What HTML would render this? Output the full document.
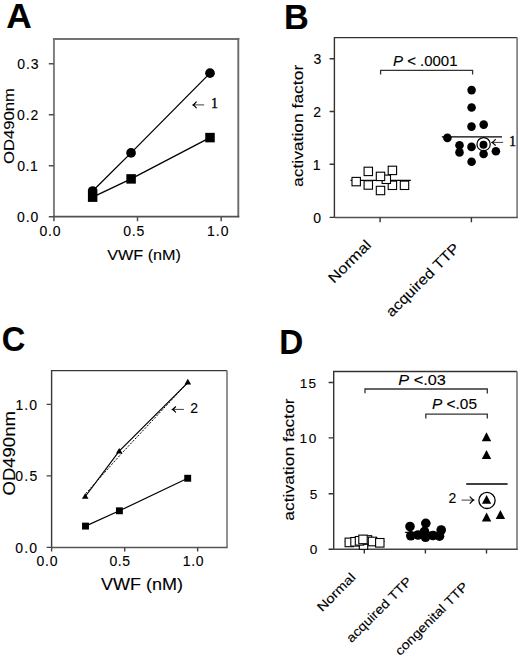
<!DOCTYPE html>
<html><head><meta charset="utf-8"><style>
html,body{margin:0;padding:0;background:#fff;}
svg{display:block;}
text{font-family:"Liberation Sans", sans-serif;fill:#000;font-kerning:none;stroke:#000;stroke-width:0.12px;}
</style></head><body>
<svg width="520" height="657" viewBox="0 0 520 657">
<rect width="520" height="657" fill="#fff"/>
<text x="6.22" y="28" font-size="35" textLength="25.51" lengthAdjust="spacingAndGlyphs" font-weight="bold">A</text>
<path d="M53.95 216.5V38.9" stroke="#808080" stroke-width="2" fill="none"/>
<path d="M52.95 38.9H239.3" stroke="#727272" stroke-width="2" fill="none"/>
<path d="M238.3 37.9V217.3" stroke="#6a6a6a" stroke-width="1.9" fill="none"/>
<path d="M52.95 216.6H239.25" stroke="#505050" stroke-width="1.6" fill="none"/>
<path d="M48.8 63.8H54M48.8 114.8H54M48.8 165.7H54M48.8 216.7H54M53.95 216.7V221.2M137.5 216.7V221.2M221.2 216.7V221.2" stroke="#505050" stroke-width="1.5" fill="none"/>
<text x="17.15" y="69.17" font-size="14.0" textLength="21.46" lengthAdjust="spacing">0.3</text>
<text x="16.95" y="120.17" font-size="14.0" textLength="21.35" lengthAdjust="spacing">0.2</text>
<text x="17.15" y="171.07" font-size="14.0" textLength="20.73" lengthAdjust="spacing">0.1</text>
<text x="17.05" y="222.07" font-size="14.0" textLength="21.19" lengthAdjust="spacing">0.0</text>
<text x="39.55" y="236.32" font-size="14.0" textLength="20.89" lengthAdjust="spacing">0.0</text>
<text x="123.25" y="236.32" font-size="14.0" textLength="21.03" lengthAdjust="spacing">0.5</text>
<text x="206.93" y="236.32" font-size="14.0" textLength="21.61" lengthAdjust="spacing">1.0</text>
<text x="107.23" y="260" font-size="15.3" textLength="73.78" lengthAdjust="spacingAndGlyphs">VWF (nM)</text>
<text x="-164.09" y="0" font-size="14.8" textLength="76.09" lengthAdjust="spacingAndGlyphs" transform="translate(13.5,0) rotate(-90)">OD490nm</text>
<path d="M92.65 191.05L131.05 152.9L210 73.15M92.65 197.15L131.1 178.9L210 137.6" stroke="#000" stroke-width="1.3" fill="none"/>
<circle cx="92.65" cy="191.05" r="4.85"/>
<circle cx="131.05" cy="152.9" r="4.85"/>
<circle cx="210" cy="73.15" r="4.85"/>
<rect x="87.9" y="192.4" width="9.5" height="9.5"/>
<rect x="126.35" y="174.15" width="9.5" height="9.5"/>
<rect x="205.25" y="132.85" width="9.5" height="9.5"/>
<path d="M204.20 104.9H193.60" stroke="#000" stroke-width="0.75" fill="none"/><path d="M196.30 101.90Q194.49 104.15 193.00 104.9Q194.49 105.65 196.30 107.90" stroke="#000" stroke-width="1.15" fill="none" stroke-linecap="round"/><path d="M193.00 104.9L194.98 103.40L194.32 104.9L194.98 106.40Z"/>
<text x="210.9" y="108.1" font-size="14" style='font-family:"Liberation Serif", serif;stroke:#000;stroke-width:0.35'>1</text>
<text x="284.01" y="29" font-size="35" textLength="24.75" lengthAdjust="spacingAndGlyphs" font-weight="bold">B</text>
<path d="M334.4 217.4V37.6H517.1" stroke="#333" stroke-width="1.4" fill="none"/>
<path d="M517.1 37.6V217.4" stroke="#777" stroke-width="1.6" fill="none"/>
<path d="M334.4 217.4H517.8" stroke="#505050" stroke-width="1.5" fill="none"/>
<path d="M329.6 58.7H334.4M329.6 111.5H334.4M329.6 164.3H334.4M329.6 217.4H334.4M380.1 217.4V222.2M471.4 217.4V222.2" stroke="#333" stroke-width="1.4" fill="none"/>
<text x="313.57" y="64.07" font-size="14.0" textLength="7.55" lengthAdjust="spacing">3</text>
<text x="313.2" y="116.87" font-size="14.0" textLength="8.01" lengthAdjust="spacing">2</text>
<text x="312.83" y="169.67" font-size="14.0" textLength="8.05" lengthAdjust="spacing">1</text>
<text x="313.35" y="222.77" font-size="14.0" textLength="7.49" lengthAdjust="spacing">0</text>
<text x="-187.04" y="0" font-size="15.4" textLength="122.23" lengthAdjust="spacingAndGlyphs" transform="translate(302.7,0) rotate(-90)">activation factor</text>
<text x="35.47" y="0" font-size="14.5" textLength="53.75" lengthAdjust="spacingAndGlyphs" transform="translate(309,309) rotate(-45)">Normal</text>
<text x="52.35" y="0" font-size="14.5" textLength="97.07" lengthAdjust="spacingAndGlyphs" transform="translate(354.65,354.65) rotate(-45)">acquired TTP</text>
<path d="M380.6 74.6V70.4H472.6V74.6" stroke="#333" stroke-width="1.3" fill="none"/>
<text x="393" y="66.3" font-size="14" textLength="64.5" lengthAdjust="spacingAndGlyphs"><tspan font-style="italic">P</tspan> &lt; .0001</text>
<path d="M350.5 180.4H410.8" stroke="#000" stroke-width="1.3"/>
<rect x="352" y="177.4" width="8.4" height="8.4" fill="#fff" stroke="#000" stroke-width="1.1"/>
<rect x="364.1" y="167.2" width="8.4" height="8.4" fill="#fff" stroke="#000" stroke-width="1.1"/>
<rect x="364.1" y="180.8" width="8.4" height="8.4" fill="#fff" stroke="#000" stroke-width="1.1"/>
<rect x="388.2" y="181.1" width="8.4" height="8.4" fill="#fff" stroke="#000" stroke-width="1.1"/>
<rect x="382.1" y="175.1" width="8.4" height="8.4" fill="#fff" stroke="#000" stroke-width="1.1"/>
<rect x="376.3" y="172.2" width="8.4" height="8.4" fill="#fff" stroke="#000" stroke-width="1.1"/>
<rect x="388.2" y="166.2" width="8.4" height="8.4" fill="#fff" stroke="#000" stroke-width="1.1"/>
<rect x="376.3" y="186.3" width="8.4" height="8.4" fill="#fff" stroke="#000" stroke-width="1.1"/>
<rect x="400.3" y="181.1" width="8.4" height="8.4" fill="#fff" stroke="#000" stroke-width="1.1"/>
<path d="M441.8 136.8H502" stroke="#000" stroke-width="1.3"/>
<circle cx="483.6" cy="144.2" r="6.65" fill="#fff" stroke="#000" stroke-width="1.2"/>
<circle cx="471.6" cy="90.1" r="4.3"/>
<circle cx="471.6" cy="107.5" r="4.3"/>
<circle cx="471.5" cy="126.6" r="4.3"/>
<circle cx="483.7" cy="124.6" r="4.3"/>
<circle cx="447.4" cy="137.9" r="4.3"/>
<circle cx="459.5" cy="145.3" r="4.3"/>
<circle cx="459.5" cy="152.4" r="4.3"/>
<circle cx="471.5" cy="146.9" r="4.3"/>
<circle cx="483.6" cy="154.0" r="4.3"/>
<circle cx="495.9" cy="151.2" r="4.3"/>
<circle cx="471.6" cy="161.7" r="4.3"/>
<circle cx="483.5" cy="144.8" r="3.95"/>
<path d="M503.15 142.4H492.55" stroke="#000" stroke-width="0.75" fill="none"/><path d="M495.35 139.55Q493.48 141.69 491.95 142.4Q493.48 143.11 495.35 145.25" stroke="#000" stroke-width="1.15" fill="none" stroke-linecap="round"/><path d="M491.95 142.4L493.99 140.97L493.31 142.4L493.99 143.83Z"/>
<text x="508.9" y="145.8" font-size="14.2" style='font-family:"Liberation Serif", serif;stroke:#000;stroke-width:0.35'>1</text>
<text x="1.86" y="351" font-size="35.5" textLength="23.53" lengthAdjust="spacingAndGlyphs" font-weight="bold">C</text>
<path d="M51.6 547.4V370.6H227" stroke="#383838" stroke-width="1.4" fill="none"/>
<path d="M227 370.6V547.4" stroke="#777" stroke-width="1.6" fill="none"/>
<path d="M51.6 547.4H227.6" stroke="#555" stroke-width="1.5" fill="none"/>
<path d="M46.6 404.4H51.6M46.6 475.9H51.6M46.6 547.4H51.6M51.6 547.4V551.6M124.7 547.4V551.6M197.65 547.4V551.6" stroke="#444" stroke-width="1.4" fill="none"/>
<text x="15.53" y="409.52" font-size="14.0" textLength="21.51" lengthAdjust="spacing">1.0</text>
<text x="15.35" y="481.02" font-size="14.0" textLength="21.83" lengthAdjust="spacing">0.5</text>
<text x="15.35" y="552.52" font-size="14.0" textLength="21.79" lengthAdjust="spacing">0.0</text>
<text x="36.45" y="565.62" font-size="14.0" textLength="21.09" lengthAdjust="spacing">0.0</text>
<text x="109.55" y="565.62" font-size="14.0" textLength="20.43" lengthAdjust="spacing">0.5</text>
<text x="182.73" y="565.62" font-size="14.0" textLength="20.81" lengthAdjust="spacing">1.0</text>
<text x="101.12" y="590.3" font-size="16.4" textLength="82" lengthAdjust="spacingAndGlyphs">VWF (nM)</text>
<text x="-495.48" y="0" font-size="16.3" textLength="84.3" lengthAdjust="spacingAndGlyphs" transform="translate(14.5,0) rotate(-90)">OD490nm</text>
<path d="M85.3 496.5L119.2 451.2L187.8 382.6" stroke="#000" stroke-width="1.2" fill="none"/>
<path d="M85.8 493.5L121.3 453.8L187.8 382.6" stroke="#000" stroke-width="1" stroke-dasharray="2 1.5" fill="none"/>
<path d="M85.5 526.1L119.4 510.8L187.7 478.25" stroke="#000" stroke-width="1.2" fill="none"/>
<path d="M85.2 493.2L88.5 498.8L81.9 498.8Z"/>
<path d="M119.2 448L122.5 453.6L115.9 453.6Z"/>
<path d="M187.8 378.7L191.1 384.5L184.5 384.5Z"/>
<rect x="82.05" y="522.65" width="6.9" height="6.9"/>
<rect x="115.95" y="507.35" width="6.9" height="6.9"/>
<rect x="184.25" y="474.8" width="6.9" height="6.9"/>
<path d="M183.90 409.4H173.00" stroke="#000" stroke-width="0.75" fill="none"/><path d="M175.60 406.75Q173.84 408.74 172.40 409.4Q173.84 410.06 175.60 412.05" stroke="#000" stroke-width="1.15" fill="none" stroke-linecap="round"/><path d="M172.40 409.4L174.32 408.07L173.68 409.4L174.32 410.72Z"/>
<text x="190.3" y="412.72" font-size="14.0" textLength="7.21" lengthAdjust="spacing">2</text>
<text x="279.37" y="353.5" font-size="35.5" textLength="24.02" lengthAdjust="spacingAndGlyphs" font-weight="bold">D</text>
<path d="M333.7 549.2V371.5H517" stroke="#333" stroke-width="1.4" fill="none"/>
<path d="M517 371.5V549.2" stroke="#777" stroke-width="1.6" fill="none"/>
<path d="M333.7 549.2H517.7" stroke="#444" stroke-width="1.5" fill="none"/>
<path d="M328.6 382.5H333.7M328.6 437.9H333.7M328.6 493.8H333.7M328.6 549.2H333.7M364.3 549.2V553.6M425.4 549.2V553.6M486.5 549.2V553.6" stroke="#333" stroke-width="1.4" fill="none"/>
<text x="299.86" y="387.68" font-size="13.6" textLength="16.11" lengthAdjust="spacing">15</text>
<text x="299.56" y="443.08" font-size="13.6" textLength="16.77" lengthAdjust="spacing">10</text>
<text x="309.66" y="498.98" font-size="13.6" textLength="8.12" lengthAdjust="spacing">5</text>
<text x="309.77" y="554.38" font-size="13.6" textLength="8.16" lengthAdjust="spacing">0</text>
<text x="-520.74" y="0" font-size="15.4" textLength="122.43" lengthAdjust="spacingAndGlyphs" transform="translate(293.5,0) rotate(-90)">activation factor</text>
<text x="-205.16" y="0" font-size="12.8" textLength="48.26" lengthAdjust="spacingAndGlyphs" transform="translate(467.3,467.3) rotate(-45)">Normal</text>
<text x="-206.24" y="0" font-size="12.8" textLength="86.29" lengthAdjust="spacingAndGlyphs" transform="translate(497.4,497.4) rotate(-45)">acquired TTP</text>
<text x="-181" y="0" font-size="12.8" textLength="97.19" lengthAdjust="spacingAndGlyphs" transform="translate(528.2,528.2) rotate(-45)">congenital TTP</text>
<path d="M365 393.3V389H487.3V393.5M425.8 418.5V414.2H487.3V418.5" stroke="#333" stroke-width="1.3" fill="none"/>
<text x="398.3" y="385" font-size="14" textLength="47.5" lengthAdjust="spacingAndGlyphs"><tspan font-style="italic">P</tspan> &lt;.03</text>
<text x="432" y="409.4" font-size="14" textLength="45" lengthAdjust="spacingAndGlyphs"><tspan font-style="italic">P</tspan> &lt;.05</text>
<path d="M344.7 541.5H384.5" stroke="#000" stroke-width="1.2"/>
<rect x="359.3" y="540.7" width="8.4" height="8.6" fill="#fff" stroke="#000" stroke-width="1.1"/>
<rect x="345.1" y="538.1" width="8.4" height="8.6" fill="#fff" stroke="#000" stroke-width="1.1"/>
<rect x="350.8" y="537.5" width="8.4" height="8.6" fill="#fff" stroke="#000" stroke-width="1.1"/>
<rect x="355.3" y="536.5" width="8.4" height="8.6" fill="#fff" stroke="#000" stroke-width="1.1"/>
<rect x="363.3" y="535.7" width="8.4" height="8.6" fill="#fff" stroke="#000" stroke-width="1.1"/>
<rect x="358.8" y="535.1" width="8.4" height="8.6" fill="#fff" stroke="#000" stroke-width="1.1"/>
<rect x="368.3" y="537.2" width="8.4" height="8.6" fill="#fff" stroke="#000" stroke-width="1.1"/>
<rect x="375.6" y="538.5" width="8.4" height="8.6" fill="#fff" stroke="#000" stroke-width="1.1"/>
<path d="M405.2 532.3H445" stroke="#000" stroke-width="1.2"/>
<circle cx="410" cy="526.5" r="4.8"/>
<circle cx="425.8" cy="523.3" r="4.8"/>
<circle cx="441.2" cy="530.0" r="4.8"/>
<circle cx="410.8" cy="535.8" r="4.8"/>
<circle cx="418" cy="535" r="4.8"/>
<circle cx="425.5" cy="537.3" r="4.8"/>
<circle cx="433" cy="535.5" r="4.8"/>
<circle cx="439.5" cy="536.2" r="4.8"/>
<circle cx="424.5" cy="531.5" r="4.8"/>
<path d="M466.2 484H507.6" stroke="#000" stroke-width="1.3"/>
<path d="M486.5 432.3L491.2 441.2L481.8 441.2Z"/>
<path d="M486.5 450L491.2 458.9L481.8 458.9Z"/>
<circle cx="487" cy="500.4" r="8.1" fill="#fff" stroke="#000" stroke-width="1.3"/>
<path d="M486.6 494.9L491.25 503.8L481.95 503.8Z"/>
<path d="M486.6 512.4L491.3 521.4L481.9 521.4Z"/>
<path d="M500.4 509.9L505.1 518.9L495.7 518.9Z"/>
<text x="448.5" y="503.12" font-size="14.0" textLength="7.81" lengthAdjust="spacing">2</text>
<path d="M461.50 500.1H473.10" stroke="#000" stroke-width="0.75" fill="none"/><path d="M470.10 496.80Q472.08 499.28 473.70 500.1Q472.08 500.93 470.10 503.40" stroke="#000" stroke-width="1.15" fill="none" stroke-linecap="round"/><path d="M473.70 500.1L471.54 498.45L472.26 500.1L471.54 501.75Z"/>
</svg>
</body></html>
